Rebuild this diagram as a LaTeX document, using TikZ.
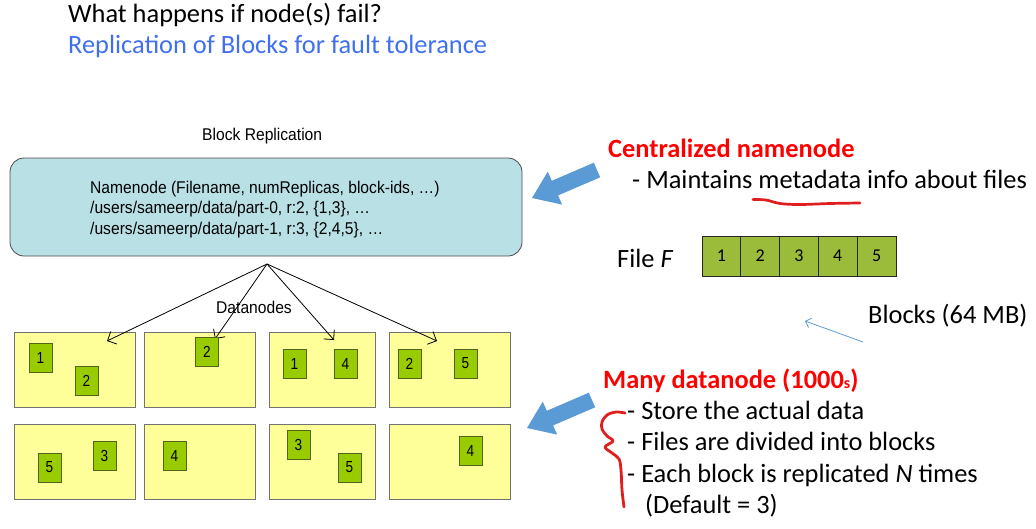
\documentclass[tikz,border=0pt]{standalone}
\usepackage{fontspec}
\setmainfont{Carlito}
\newfontfamily\arial{Liberation Sans}
\usetikzlibrary{arrows.meta}
\definecolor{titleblue}{RGB}{64,112,240}
\definecolor{nnfill}{RGB}{185,224,229}
\definecolor{dnfill}{RGB}{255,255,153}
\definecolor{blkgreen}{RGB}{153,204,0}
\definecolor{blkedge}{RGB}{80,100,30}
\definecolor{stripgreen}{RGB}{155,187,59}
\definecolor{arrowblue}{RGB}{91,155,213}
\definecolor{inkred}{RGB}{225,30,30}
\newcommand{\narrow}[1]{\scalebox{0.92}[1]{#1}}
\newcommand{\digitnarrow}[1]{\scalebox{0.85}[1]{#1}}
\tikzset{
  namebox/.style={draw=black!70, fill=nnfill, rounded corners=14pt, line width=0.8pt, inner sep=0, outer sep=0},
  dnbox/.style={draw=black!55, fill=dnfill, line width=0.9pt, inner sep=0, outer sep=0, minimum height=75pt},
  blk/.style={draw=blkedge, fill=blkgreen, line width=0.8pt, inner sep=0, outer sep=0, minimum width=23pt, minimum height=29pt, font=\arial\fontsize{16}{18}\selectfont},
  cell/.style={draw=black!85, fill=stripgreen, line width=0.9pt, inner sep=0, outer sep=0, minimum width=38.8pt, minimum height=40pt, font=\fontsize{18}{20}\selectfont},
  conn/.style={-{Straight Barb[length=7pt,width=14pt]}, line width=0.8pt},
  big/.style={font=\fontsize{26.4}{30}\selectfont},
  bigbold/.style={font=\fontsize{26.4}{30}\selectfont\bfseries, text=red},
  arialtxt/.style={font=\arial\fontsize{17}{20}\selectfont},
  fatarrow/.pic={\fill[arrowblue] (68.2,-20.7) -- (26.1,-2.6) -- (30.1,6.6) -- (0,0) -- (15.8,-26.4) -- (19.8,-17.2) -- (61.8,-35.3) -- cycle;}
}
\begin{document}
\begin{tikzpicture}[x=1pt,y=-1pt]
\useasboundingbox (0,0) rectangle (1036,528);
% titles
\node[big, anchor=base west, inner sep=0] (t1) at (68,22) {What happens if node(s) fail?};
\node[big, anchor=base west, inner sep=0, text=titleblue] (t2) at (68,53) {Replication of Blocks for fault tolerance};
% block replication diagram
\node[arialtxt, anchor=base west, inner sep=0] (br) at (202,140) {\narrow{Block Replication}};
\node[namebox, minimum width=512pt, minimum height=98pt] (nn) at (266,207) {};
\node[arialtxt, anchor=base west, inner sep=0] (nn1) at (90,193) {\narrow{Namenode (Filename, numReplicas, block-ids, \dots)}};
\node[arialtxt, anchor=base west, inner sep=0] (nn2) at (90,213.5) {\narrow{/users/sameerp/data/part-0, r:2, \{1,3\}, \dots}};
\node[arialtxt, anchor=base west, inner sep=0] (nn3) at (90,234) {\narrow{/users/sameerp/data/part-1, r:3, \{2,4,5\}, \dots}};
\coordinate (apex) at (267,264);
% datanodes
\node[dnbox, minimum width=121pt] (d11) at (74.5,369.5) {};
\node[dnbox, minimum width=111pt] (d12) at (199.5,369.5) {};
\node[dnbox, minimum width=106pt] (d13) at (322,369.5) {};
\node[dnbox, minimum width=121pt] (d14) at (449.5,369.5) {};
\node[dnbox, minimum width=121pt] (d21) at (74.5,461.5) {};
\node[dnbox, minimum width=111pt] (d22) at (199.5,461.5) {};
\node[dnbox, minimum width=106pt] (d23) at (322,461.5) {};
\node[dnbox, minimum width=121pt] (d24) at (449.5,461.5) {};
\node[arialtxt, anchor=base, inner sep=0] (dn) at (254,313) {\narrow{Datanodes}};
\coordinate (a1) at (107,341);
\coordinate (a2) at (215,339);
\coordinate (a3) at (334,340);
\coordinate (a4) at (437,341);
\draw[conn] (apex) -- (a1);
\draw[conn] (apex) -- (a2);
\draw[conn] (apex) -- (a3);
\draw[conn] (apex) -- (a4);
% blocks
\node[blk] (b111) at (40.5,357.5) {\digitnarrow{1}};
\node[blk] (b112) at (86.5,380.5) {\digitnarrow{2}};
\node[blk] (b121) at (207,351.5) {\digitnarrow{2}};
\node[blk] (b131) at (294.5,363.5) {\digitnarrow{1}};
\node[blk] (b132) at (345.5,363.5) {\digitnarrow{4}};
\node[blk] (b141) at (409.5,363.5) {\digitnarrow{2}};
\node[blk] (b142) at (465.5,363.5) {\digitnarrow{5}};
\node[blk] (b211) at (49.5,467.5) {\digitnarrow{5}};
\node[blk] (b212) at (104.5,455.5) {\digitnarrow{3}};
\node[blk] (b221) at (174.5,455.5) {\digitnarrow{4}};
\node[blk] (b231) at (298.5,444.5) {\digitnarrow{3}};
\node[blk] (b232) at (349.5,467.5) {\digitnarrow{5}};
\node[blk] (b241) at (470.5,450.5) {\digitnarrow{4}};
% fat arrows
\pic at (532,198) {fatarrow};
\pic at (527,428) {fatarrow};
% right side texts
\node[bigbold, anchor=base west, inner sep=0] (cn) at (608,157) {Centralized namenode};
\node[big, anchor=base west, inner sep=0] (mt) at (632,188) {- Maintains metadata info about files};
\draw[inkred, line width=2.7pt, line cap=round] plot[smooth, tension=0.6] coordinates {(753,199.5) (766,200) (780,203.5) (800,204.5) (830,203.5) (860,203)};
\node[big, anchor=base west, inner sep=0] (ff) at (617,267) {File \textit{F}};
\node[cell] (c1) at (721.4,256) {1};
\node[cell] (c2) at (760.2,256) {2};
\node[cell] (c3) at (799.0,256) {3};
\node[cell] (c4) at (837.8,256) {4};
\node[cell] (c5) at (876.6,256) {5};
\node[big, anchor=base west, inner sep=0] (bl) at (868,323) {Blocks (64 MB)};
\coordinate (ba0) at (863,342);
\coordinate (ba1) at (805,321);
\draw[arrowblue, line width=0.8pt, -{Straight Barb[length=5pt,width=10pt]}] (ba0) -- (ba1);
\node[bigbold, anchor=base west, inner sep=0] (md) at (603,388) {Many datanode (1000{\fontsize{16}{18}\selectfont s})};
\node[big, anchor=base west, inner sep=0] (s1) at (627,419) {- Store the actual data};
\node[big, anchor=base west, inner sep=0] (s2) at (627,450) {- Files are divided into blocks};
\node[big, anchor=base west, inner sep=0] (s3) at (627,482) {- Each block is replicated \textit{N} times};
\node[big, anchor=base west, inner sep=0] (s4) at (645,513) {(Default = 3)};
\draw[inkred, line width=2.8pt, line cap=round, line join=round] plot[smooth, tension=0.55] coordinates {(625,413) (616,412) (607,415) (602,422) (602,429) (607,436) (613,441) (605,447) (612,453) (619,459) (621,470) (622,490) (624,507)};
\end{tikzpicture}
\end{document}
